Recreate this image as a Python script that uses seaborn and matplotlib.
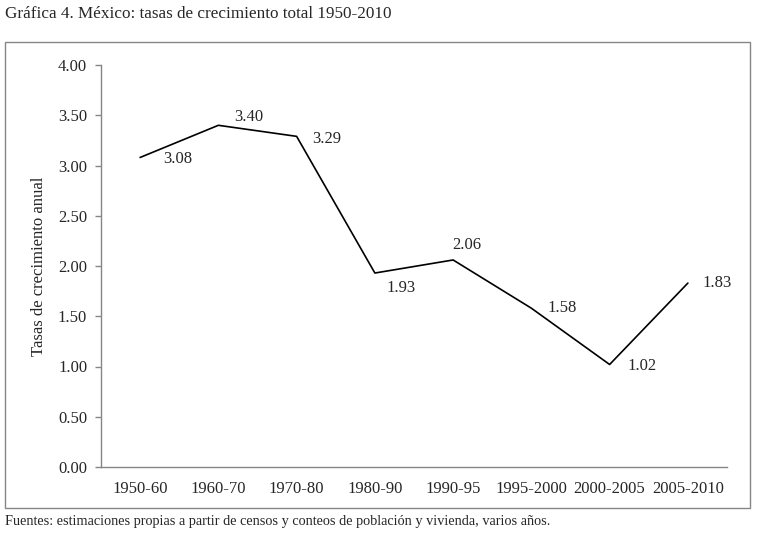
import pandas as pd
import matplotlib
matplotlib.use("Agg")
import matplotlib.pyplot as plt
import seaborn as sns
from matplotlib.patches import Rectangle

periodos = ['1950-60', '1960-70', '1970-80', '1980-90', '1990-95',
            '1995-2000', '2000-2005', '2005-2010']
tasas = [3.08, 3.40, 3.29, 1.93, 2.06, 1.58, 1.02, 1.83]
yticks = [0.0, 0.5, 1.0, 1.5, 2.0, 2.5, 3.0, 3.5, 4.0]

# label offsets in points (dx, dy), manual like in the original
offsets = [(27, -1), (22, 6), (22, -2), (19, -11), (10, 11), (22, 0), (23, -1), (21, 0)]

df = pd.DataFrame({'periodo': periodos, 'tasa': tasas})

sns.set_style("white")
plt.rcParams['font.family'] = ['Liberation Serif', 'DejaVu Serif']

W, H = 758, 535
fig = plt.figure(figsize=(W / 100, H / 100), dpi=100)

# outer frame
fig.patches.append(Rectangle((5 / W, 1 - 508 / H), 745 / W, 466 / H, transform=fig.transFigure,
                             fill=False, edgecolor='#868686', linewidth=1.0))

ax = fig.add_axes([101 / W, 1 - 467 / H, 626 / W, 402 / H])
sns.lineplot(data=df, x='periodo', y='tasa', sort=False, color='black', linewidth=1.2, ax=ax)

ax.set_xlim(-0.5, len(periodos) - 0.5)
ax.set_ylim(0, 4)
ax.set_yticks(yticks)
ax.set_yticklabels([f'{v:.2f}' for v in yticks])
ax.set_xlabel('')
ax.set_ylabel('Tasas de crecimiento anual', fontsize=12, labelpad=8)

for s in ['top', 'right']:
    ax.spines[s].set_visible(False)
for s in ['left', 'bottom']:
    ax.spines[s].set_color('#868686')
    ax.spines[s].set_linewidth(1.0)

ax.tick_params(axis='y', length=4, width=1, color='#868686', labelsize=12, pad=6, left=True)
ax.tick_params(axis='x', length=0, labelsize=12, pad=10)

for i, (v, off) in enumerate(zip(tasas, offsets)):
    ax.annotate(f'{v:.2f}', (i, v), xytext=off, textcoords='offset points',
                ha='center', va='center', fontsize=12)

fig.text(5 / W, 1 - 14 / H, 'Gráfica 4. México: tasas de crecimiento total 1950-2010',
         fontsize=12.3, ha='left', va='center')
fig.text(5 / W, 1 - 521 / H,
         'Fuentes: estimaciones propias a partir de censos y conteos de población y vivienda, varios años.',
         fontsize=10.3, ha='left', va='center')

fig.savefig('out.png', dpi=100)
